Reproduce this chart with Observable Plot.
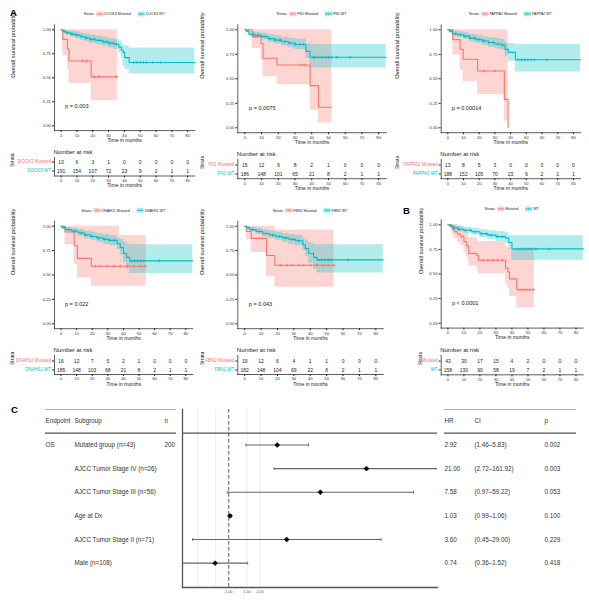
<!DOCTYPE html>
<html><head><meta charset="utf-8">
<script src="https://cdn.jsdelivr.net/npm/d3@7"></script>
<script src="https://cdn.jsdelivr.net/npm/@observablehq/plot@0.6"></script>
<style>
body{margin:0;background:#fff;}
#root{position:relative;width:589px;height:600px;overflow:hidden;font-family:"Liberation Sans",Arial,sans-serif;background:#fff;}
.abs{position:absolute;}
.abs svg{display:block;max-width:none;overflow:visible;}
</style></head><body><div id="root"></div>
<script>
// ---------------- DATA ----------------
const riskTimes = [0, 10, 20, 30, 40, 50, 60, 70, 80];
const survTicks = [0, 0.25, 0.5, 0.75, 1];
const genes = ["DOCK3", "FN1", "PAPPA2", "DNAH11", "FBN2", ""];
const pTexts = ["p = 0.003", "p = 0.0075", "p = 0.00014", "p = 0.022", "p = 0.043", "p < 0.0001"];

// KM series rows: [time, survival, lower CI, upper CI]
const dock3Mut = [[0,1,1,1],[1,0.9,0.73,1],[4,0.8,0.58,1],[5,0.675,0.44,1],[19,0.51,0.26,1],[35.5,0.51,0.26,1]];
const dock3Wt = [[0,1,1,1],[1,0.985,0.97,1],[3,0.97,0.94,0.99],[6,0.955,0.925,0.985],[9,0.945,0.91,0.98],[12,0.93,0.89,0.965],[15,0.915,0.875,0.955],[18,0.9,0.86,0.945],[22,0.89,0.845,0.935],[26,0.875,0.83,0.925],[30,0.86,0.81,0.91],[34,0.85,0.795,0.905],[36.5,0.82,0.76,0.885],[38,0.79,0.7,0.86],[39.2,0.765,0.62,0.84],[40.2,0.71,0.59,0.835],[43,0.66,0.54,0.81],[84.5,0.66,0.54,0.81]];
const dock3MutCens = [13.5, 16, 21, 24, 35];
const dock3WtCens = [2, 4, 7, 10, 13, 16, 19, 21, 24, 27, 29, 31, 33, 35, 46, 48, 50, 52, 54, 58, 63];
const dock3RiskMut = [10, 6, 3, 1, 0, 0, 0, 0, 0];
const dock3RiskWt = [191, 154, 107, 72, 23, 9, 2, 1, 1];

const fn1Mut = [[0,1,1,1],[4.4,0.93,0.81,1],[9.7,0.86,0.69,1],[10.9,0.71,0.52,1],[19.2,0.64,0.44,1],[39,0.43,0.18,1],[44,0.21,0.05,1],[52,0.21,0.05,1]];
const fn1Wt = [[0,1,1,1],[1,0.985,0.97,1],[2.5,0.955,0.93,0.985],[6,0.945,0.915,0.975],[10,0.93,0.895,0.965],[14,0.91,0.87,0.95],[18,0.895,0.855,0.94],[22,0.88,0.835,0.925],[26,0.865,0.815,0.915],[30,0.85,0.8,0.905],[36.5,0.78,0.71,0.855],[39,0.72,0.61,0.85],[84.5,0.72,0.61,0.85]];
const fn1MutCens = [33.5, 35.5];
const fn1WtCens = [2, 5, 8, 12, 15, 18, 21, 24, 27, 30, 33, 35, 41, 42, 44, 46, 48, 50, 52, 55, 63];
const fn1RiskMut = [15, 12, 9, 8, 2, 1, 0, 0, 0];
const fn1RiskWt = [186, 148, 101, 65, 21, 8, 2, 1, 1];

const pappa2Mut = [[0,1,1,1],[3.2,0.9,0.74,1],[7.8,0.8,0.59,1],[9.8,0.7,0.47,1],[19,0.58,0.34,1],[36,0.29,0.07,1],[38.4,0,0,0]];
const pappa2Wt = [[0,1,1,1],[1,0.985,0.97,1],[3,0.96,0.935,0.99],[6,0.95,0.92,0.98],[10,0.935,0.9,0.97],[14,0.915,0.875,0.955],[18,0.9,0.86,0.945],[22,0.885,0.84,0.93],[26,0.87,0.82,0.92],[30,0.855,0.805,0.91],[34,0.845,0.79,0.9],[36.5,0.8,0.73,0.87],[38.5,0.77,0.68,0.86],[43,0.695,0.57,0.85],[84.5,0.695,0.57,0.85]];
const pappa2MutCens = [23, 30];
const pappa2WtCens = [2, 5, 8, 11, 14, 17, 20, 23, 26, 29, 32, 35, 45, 47, 49, 51, 53, 55, 63];
const pappa2RiskMut = [13, 8, 5, 3, 0, 0, 0, 0, 0];
const pappa2RiskWt = [188, 152, 105, 70, 23, 9, 2, 1, 1];

const dnah11Mut = [[0,1,1,1],[2.5,0.94,0.81,1],[8.4,0.8,0.61,1],[10.5,0.67,0.47,1],[19.4,0.59,0.385,1],[37.5,0.59,0.385,0.905],[54.6,0.59,0.385,0.905]];
const dnah11Wt = [[0,1,1,1],[1,0.985,0.97,1],[3,0.965,0.94,0.99],[7,0.95,0.92,0.98],[11,0.93,0.895,0.965],[15,0.91,0.87,0.95],[19,0.895,0.855,0.94],[23,0.88,0.835,0.925],[27,0.865,0.815,0.915],[31,0.855,0.8,0.905],[36,0.82,0.76,0.88],[38,0.78,0.7,0.86],[40,0.72,0.63,0.84],[42,0.68,0.56,0.82],[44,0.645,0.515,0.81],[84.5,0.645,0.515,0.81]];
const dnah11MutCens = [22, 25, 29.5, 34, 38, 42.5, 46.5, 51, 54];
const dnah11WtCens = [2, 5, 9, 13, 16, 20, 24, 28, 31, 34, 45, 47, 49, 51, 53, 63];
const dnah11RiskMut = [16, 12, 7, 5, 2, 1, 0, 0, 0];
const dnah11RiskWt = [185, 148, 103, 68, 21, 8, 2, 1, 1];

const fbn2Mut = [[0,1,1,1],[1,0.945,0.86,1],[4,0.875,0.73,1],[13.3,0.7,0.485,1],[18.4,0.6,0.375,0.96],[54.5,0.6,0.375,0.96]];
const fbn2Wt = [[0,1,1,1],[1,0.985,0.97,1],[3,0.965,0.94,0.99],[7,0.945,0.915,0.975],[11,0.925,0.89,0.96],[15,0.91,0.87,0.95],[19,0.895,0.855,0.94],[23,0.88,0.835,0.925],[27,0.865,0.815,0.915],[31,0.85,0.8,0.905],[35.5,0.81,0.75,0.875],[37,0.77,0.69,0.855],[39,0.72,0.62,0.83],[42,0.68,0.56,0.815],[44,0.655,0.52,0.81],[84.5,0.655,0.52,0.81]];
const fbn2MutCens = [22, 26, 29, 33, 36, 40, 44, 48, 51, 54.5];
const fbn2WtCens = [2, 5, 9, 13, 17, 21, 25, 29, 33, 45, 47, 49, 51, 53, 63];
const fbn2RiskMut = [19, 12, 6, 4, 1, 1, 0, 0, 0];
const fbn2RiskWt = [182, 148, 104, 69, 22, 8, 2, 1, 1];

const allMut = [[0,1,1,1],[2,0.977,0.93,1],[3,0.953,0.89,1],[4,0.93,0.86,1],[6,0.905,0.82,0.99],[8,0.88,0.79,0.975],[10,0.83,0.72,0.95],[11.5,0.785,0.67,0.925],[13,0.71,0.58,0.87],[18,0.69,0.55,0.85],[19,0.64,0.5,0.83],[36,0.56,0.4,0.78],[37.5,0.52,0.35,0.76],[38.5,0.45,0.27,0.755],[43,0.34,0.155,0.755],[54,0.34,0.155,0.755]];
const allWt = [[0,1,1,1],[1,0.99,0.975,1],[3,0.97,0.95,0.995],[6,0.955,0.93,0.985],[10,0.945,0.915,0.975],[15,0.93,0.895,0.965],[20,0.91,0.87,0.95],[25,0.895,0.85,0.94],[30,0.88,0.83,0.93],[36,0.865,0.81,0.92],[38,0.82,0.75,0.895],[40,0.755,0.64,0.89],[84.5,0.755,0.64,0.89]];
const allMutCens = [22, 25, 28, 31, 34, 45, 47, 49, 51, 53];
const allWtCens = [2, 4, 7, 11, 14, 17, 21, 24, 27, 31, 34, 44, 46, 48, 50, 52, 55, 63];
const allRiskMut = [43, 30, 17, 15, 4, 2, 0, 0, 0];
const allRiskWt = [158, 130, 90, 58, 19, 7, 2, 1, 1];

// Forest plot (C)
const endpoint = "OS";
const nTotal = 200;
const subgroups = ["Mutated group (n=43)", "AJCC Tumor Stage IV (n=26)", "AJCC Tumor Stage III (n=56)", "Age at Dx", "AJCC Tumor Stage II (n=71)", "Male (n=108)"];
const hrVals = [2.92, 21.00, 7.58, 1.03, 3.60, 0.74];
const ciLow = [1.46, 2.72, 0.97, 0.99, 0.45, 0.36];
const ciHigh = [5.83, 161.92, 59.22, 1.06, 29.00, 1.52];
const pVals = [0.002, 0.003, 0.053, 0.100, 0.229, 0.418];
const forestTicks = [0.5, 0.75, 1, 1.5, 2];
const leftHeaders = ["Endpoint", "Subgroup", "n"];
const rightHeaders = ["HR", "CI", "p"];

// ---------------- LAYOUT ----------------
const RED = "#F8766D", TEAL = "#00BFC4";
const FONT = "'Liberation Sans', Arial, Helvetica, sans-serif";
const xDomain = [-4.2, 84.5];
const yDomain = [-0.05, 1.05];
const svgStyle = {background: "transparent", overflow: "visible", maxWidth: "none", fontFamily: FONT, color: "#222"};

const series = [
  [dock3Mut, dock3Wt, dock3MutCens, dock3WtCens, dock3RiskMut, dock3RiskWt],
  [fn1Mut, fn1Wt, fn1MutCens, fn1WtCens, fn1RiskMut, fn1RiskWt],
  [pappa2Mut, pappa2Wt, pappa2MutCens, pappa2WtCens, pappa2RiskMut, pappa2RiskWt],
  [dnah11Mut, dnah11Wt, dnah11MutCens, dnah11WtCens, dnah11RiskMut, dnah11RiskWt],
  [fbn2Mut, fbn2Wt, fbn2MutCens, fbn2WtCens, fbn2RiskMut, fbn2RiskWt],
  [allMut, allWt, allMutCens, allWtCens, allRiskMut, allRiskWt]
];

const layout = [
  {ox: 0,   w: 195, rowTop: 0,   L: 54,    R: 194.3, T: 24.5,  B: 130.1, tT: 156.7, tB: 175.2, titleX: 12.3},
  {ox: 195, w: 195, rowTop: 0,   L: 237.3, R: 385.7, T: 24.4,  B: 132.2, tT: 158.8, tB: 178,   titleX: 201.7},
  {ox: 390, w: 199, rowTop: 0,   L: 440.7, R: 580,   T: 24.4,  B: 132.2, tT: 158.8, tB: 178,   titleX: 396.7},
  {ox: 0,   w: 195, rowTop: 195, L: 54,    R: 192.3, T: 220.8, B: 328.2, tT: 355.3, tB: 374.3, titleX: 12.3},
  {ox: 195, w: 195, rowTop: 195, L: 237.3, R: 382.7, T: 220.8, B: 328.2, tT: 355,   tB: 374,   titleX: 201.7},
  {ox: 390, w: 199, rowTop: 195, L: 440.7, R: 582.7, T: 219.4, B: 327.6, tT: 355,   tB: 374.3, titleX: 420.3}
];

const root = document.getElementById("root");
function place(el, left, top) {
  const d = document.createElement("div");
  d.className = "abs";
  d.style.left = left + "px";
  d.style.top = top + "px";
  d.appendChild(el);
  root.appendChild(d);
}
function survAt(s, t) {
  let v = s[0][1];
  for (const r of s) if (r[0] <= t) v = r[1];
  return v;
}
function strataLabels(gene) {
  return gene ? [gene + " Mutated", gene + " WT"] : ["Mutated", "WT"];
}

layout.forEach((g, k) => {
  const [mut, wt, mutC, wtC, rMut, rWt] = series[k];
  const labels = strataLabels(genes[k]);
  const mL = g.L - g.ox, mR = g.ox + g.w - g.R;
  const mainH = g.B - g.rowTop + 20;
  const main = Plot.plot({
    width: g.w, height: mainH,
    marginLeft: mL, marginRight: mR, marginTop: g.T - g.rowTop, marginBottom: 20,
    x: {domain: xDomain}, y: {domain: yDomain},
    style: svgStyle,
    marks: [
      Plot.areaY(mut, {x: d => d[0], y1: d => d[2], y2: d => d[3], curve: "step-after", fill: RED, fillOpacity: 0.3}),
      Plot.areaY(wt, {x: d => d[0], y1: d => d[2], y2: d => d[3], curve: "step-after", fill: TEAL, fillOpacity: 0.3}),
      Plot.line(mut, {x: d => d[0], y: d => d[1], curve: "step-after", stroke: RED, strokeWidth: 1.1}),
      Plot.line(wt, {x: d => d[0], y: d => d[1], curve: "step-after", stroke: TEAL, strokeWidth: 1.1}),
      Plot.dot(mutC, {x: d => d, y: d => survAt(mut, d), symbol: "plus", r: 1.1, stroke: RED, strokeWidth: 0.7}),
      Plot.dot(wtC, {x: d => d, y: d => survAt(wt, d), symbol: "plus", r: 1.1, stroke: TEAL, strokeWidth: 0.7}),
      Plot.frame({anchor: "left", stroke: "#333", strokeWidth: 0.8}),
      Plot.frame({anchor: "bottom", stroke: "#333", strokeWidth: 0.8}),
      Plot.axisX({ticks: riskTimes, tickSize: 2, tickPadding: 1, fontSize: 4.2, label: null, fill: "#333"}),
      Plot.axisY({ticks: survTicks, tickFormat: d3.format(".2f"), tickSize: 2, tickPadding: 1.5, fontSize: 4.3, label: null, fill: "#333"}),
      Plot.text(["Time in months"], {text: d => d, frameAnchor: "bottom", dy: 11, fontSize: 5.1, fill: "#222"}),
      Plot.text(["Overall survival probability"], {text: d => d, frameAnchor: "left", rotate: -90, dx: g.titleX - g.L, fontSize: 5.7, fill: "#222"}),
      Plot.text([pTexts[k]], {text: d => d, x: () => 2.5, y: () => 0.2, textAnchor: "start", fontSize: 5.6, fill: "#222"})
    ]
  });
  place(main, g.ox, g.rowTop);

  const riskRows = riskTimes.flatMap((t, i) => [{t, s: "Mutated", n: rMut[i]}, {t, s: "WT", n: rWt[i]}]);
  const tH = g.tB - g.tT + 40;
  const table = Plot.plot({
    width: g.w, height: tH,
    marginLeft: mL, marginRight: mR, marginTop: 20, marginBottom: 20,
    x: {domain: xDomain},
    y: {type: "band", domain: ["Mutated", "WT"], padding: 0},
    style: svgStyle,
    marks: [
      Plot.frame({anchor: "left", stroke: "#333", strokeWidth: 0.8}),
      Plot.frame({anchor: "bottom", stroke: "#333", strokeWidth: 0.8}),
      Plot.axisX({ticks: riskTimes, tickSize: 2, tickPadding: 1, fontSize: 4.1, label: null, fill: "#333"}),
      Plot.axisY({tickSize: 2, tickFormat: () => "", label: null}),
      Plot.text([labels[0]], {y: () => "Mutated", text: d => d, frameAnchor: "left", textAnchor: "end", dx: -3.5, fill: RED, fontSize: 4.5}),
      Plot.text([labels[1]], {y: () => "WT", text: d => d, frameAnchor: "left", textAnchor: "end", dx: -3.5, fill: TEAL, fontSize: 4.5}),
      Plot.text(riskRows, {x: "t", y: "s", text: d => String(d.n), fontSize: 5, fill: "#222"}),
      Plot.text(["Number at risk"], {text: d => d, frameAnchor: "top-left", textAnchor: "start", dy: -7.4, dx: -1, fontSize: 6, fill: "#222"}),
      Plot.text(["Time in months"], {text: d => d, frameAnchor: "bottom", dy: 11, fontSize: 5.1, fill: "#222"}),
      Plot.text(["Strata"], {text: d => d, frameAnchor: "left", rotate: -90, dx: g.titleX - g.L, fontSize: 5, fill: "#222"})
    ]
  });
  place(table, g.ox, g.tT - 20);
});

// ---------------- FOREST (C) ----------------
const fTop = 395, fH = 205, fMT = 14, fMB = 13;
const yDom = [-0.5, 7.03];
const fRows = subgroups.map((s, i) => ({i: i + 1, sub: s, hr: hrVals[i], lo: ciLow[i], hi: ciHigh[i], p: pVals[i]}));
const capSymbol = {draw(ctx, size) { const h = Math.sqrt(size) / 2; ctx.moveTo(0, -h); ctx.lineTo(0, h); }};
const fmt2 = d3.format(".2f"), fmt3 = d3.format(".3f");

const leftCols = [
  {dx: 0,   vals: [leftHeaders[0], endpoint, "", "", "", "", ""]},
  {dx: 29,  vals: [leftHeaders[1], ...subgroups]},
  {dx: 119, vals: [leftHeaders[2], String(nTotal), "", "", "", "", ""]}
];
const rightCols = [
  {dx: 0,   vals: [rightHeaders[0], ...hrVals.map(fmt2)]},
  {dx: 30,  vals: [rightHeaders[1], ...ciLow.map((l, i) => `(${fmt2(l)}–${fmt2(ciHigh[i])})`)]},
  {dx: 100, vals: [rightHeaders[2], ...pVals.map(fmt3)]}
];
function tableMarks(cols) {
  return [
    Plot.ruleY([-0.5], {stroke: "#999", strokeWidth: 0.8}),
    Plot.ruleY([0.5], {stroke: "#555", strokeWidth: 1.2}),
    ...cols.map(c => Plot.text(c.vals, {y: (d, i) => i, text: d => d, frameAnchor: "left", textAnchor: "start", dx: c.dx, fontSize: 6.3, fill: "#333"}))
  ];
}
const leftTable = Plot.plot({
  width: 182, height: fH, marginLeft: 45, marginRight: 6, marginTop: fMT, marginBottom: fMB,
  y: {domain: yDom, reverse: true, axis: null},
  style: svgStyle,
  marks: tableMarks(leftCols)
});
place(leftTable, 0, fTop);

const forest = Plot.plot({
  width: 589, height: fH, marginLeft: 182, marginRight: 152, marginTop: fMT, marginBottom: fMB,
  x: {type: "log", domain: [d3.min(ciLow), 101]},
  y: {domain: yDom, reverse: true, axis: null},
  style: svgStyle,
  marks: [
    Plot.gridX(forestTicks, {stroke: "#e2e2e2", strokeOpacity: 1, strokeWidth: 0.7}),
    Plot.ruleX([1], {stroke: "#777", strokeDasharray: "3.5,2.5", strokeWidth: 1.2}),
    Plot.ruleY([0.5], {stroke: "#555", strokeWidth: 1.2}),
    Plot.link(fRows, {x1: "lo", x2: "hi", y1: "i", y2: "i", stroke: "#666", strokeWidth: 1.1, clip: true}),
    Plot.dot(fRows, {x: "lo", y: "i", symbol: capSymbol, r: 1.7, stroke: "#666", strokeWidth: 0.9, clip: true}),
    Plot.dot(fRows, {x: "hi", y: "i", symbol: capSymbol, r: 1.7, stroke: "#666", strokeWidth: 0.9, clip: true}),
    Plot.dot(fRows, {x: "hr", y: "i", symbol: "diamond2", r: 2.2, fill: "#000", stroke: "#000", strokeWidth: 0.6}),
    Plot.frame({anchor: "left", stroke: "#555", strokeWidth: 1.3}),
    Plot.frame({anchor: "bottom", stroke: "#555", strokeWidth: 1.3}),
    Plot.axisX({ticks: forestTicks, tickFormat: fmt2, tickSize: 0, tickPadding: 3, fontSize: 3.8, fill: "#555", label: null})
  ]
});
place(forest, 0, fTop);

const rightTable = Plot.plot({
  width: 152, height: fH, marginLeft: 7, marginRight: 13, marginTop: fMT, marginBottom: fMB,
  y: {domain: yDom, reverse: true, axis: null},
  style: svgStyle,
  marks: tableMarks(rightCols)
});
place(rightTable, 437, fTop);

// ---------------- LEGENDS & PANEL LETTERS ----------------
const ov = d3.select(root).append("svg")
  .attr("width", 589).attr("height", 600)
  .style("position", "absolute").style("left", "0px").style("top", "0px")
  .style("font-family", FONT).style("pointer-events", "none");
layout.forEach((g, k) => {
  const labels = strataLabels(genes[k]);
  const grp = ov.append("g");
  let x = 0;
  const t0 = grp.append("text").attr("x", x).attr("y", 0).attr("dy", "0.35em").attr("font-size", 3.8).attr("fill", "#222").text("Strata");
  x += t0.node().getComputedTextLength() + 2.5;
  [RED, TEAL].forEach((c, i) => {
    grp.append("rect").attr("x", x).attr("y", -2.5).attr("width", 7).attr("height", 5).attr("fill", c).attr("fill-opacity", 0.3);
    grp.append("line").attr("x1", x).attr("x2", x + 7).attr("y1", 0).attr("y2", 0).attr("stroke", c).attr("stroke-width", 0.8);
    grp.append("line").attr("x1", x + 3.5).attr("x2", x + 3.5).attr("y1", -1.1).attr("y2", 1.1).attr("stroke", c).attr("stroke-width", 0.6);
    x += 8;
    const t = grp.append("text").attr("x", x).attr("y", 0).attr("dy", "0.35em").attr("font-size", 3.6).attr("fill", "#222").text(labels[i]);
    x += t.node().getComputedTextLength() + (i === 0 ? 7 : 0);
  });
  grp.attr("transform", `translate(${(g.L + g.R) / 2 - x / 2},${g.T - 10.5})`);
});
[["A", 10, 15.5], ["B", 403, 214], ["C", 11, 413]].forEach(([t, x, y]) => {
  ov.append("text").attr("x", x).attr("y", y).attr("font-size", 9.5).attr("font-weight", "bold").attr("fill", "#000").text(t);
});
</script>
</body></html>
